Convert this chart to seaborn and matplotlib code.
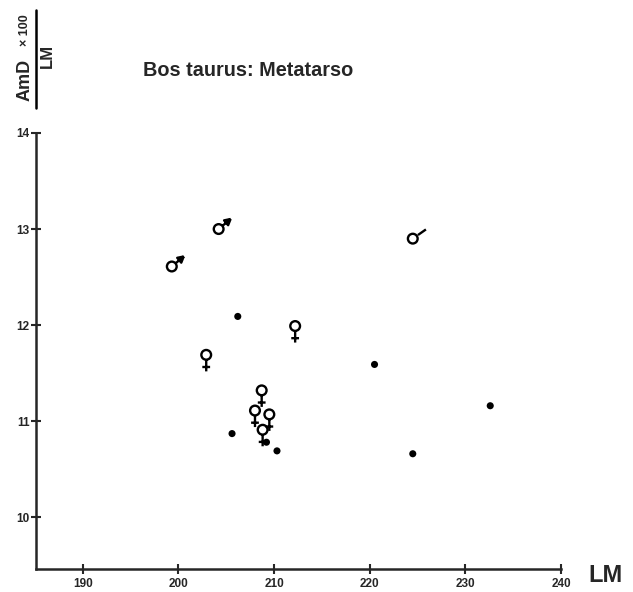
import numpy as np
import pandas as pd
import matplotlib
matplotlib.use("Agg")
import matplotlib.pyplot as plt
from matplotlib.path import Path
from matplotlib.lines import Line2D
import seaborn as sns

# Metatarsal measurements: greatest length (LM, mm) vs index AmD*100/LM
male_lm = [199.3, 204.2]
male_idx = [12.61, 13.00]
male_doubt_lm = [224.5]
male_doubt_idx = [12.90]
female_lm = [202.9, 212.2, 208.7, 208.0, 209.5, 208.8]
female_idx = [11.69, 11.99, 11.32, 11.11, 11.07, 10.91]
unsexed_lm = [206.2, 220.5, 232.6, 224.5, 205.6, 210.3, 209.2]
unsexed_idx = [12.09, 11.59, 11.16, 10.66, 10.87, 10.69, 10.78]

x_ticks = [190, 200, 210, 220, 230, 240]
y_ticks = [10, 11, 12, 13, 14]

FONT = ["Liberation Sans", "DejaVu Sans"]


def circle_codes():
    c = Path.unit_circle()
    return list(c.vertices), list(c.codes)


def make_path(segments):
    verts, codes = circle_codes()
    for seg in segments:
        for i, p in enumerate(seg):
            verts.append(p)
            codes.append(Path.MOVETO if i == 0 else Path.LINETO)
    return Path(np.array(verts, dtype=float), codes)


# sex symbols drawn with the circle centred on the data point
ang = np.deg2rad(40)
u = np.array([np.cos(ang), np.sin(ang)])
n = np.array([-u[1], u[0]])
tip = 3.2 * u
head = [tuple(tip), tuple(tip - 1.2 * u + 0.65 * n), tuple(tip - 1.2 * u - 0.65 * n), tuple(tip)]
male_path = make_path([
    [tuple(u * 1.0), tuple(tip)],
    head,
    [tuple(tip - 0.4 * u + 0.25 * n), tuple(tip - 0.4 * u - 0.25 * n)],
])
ang2 = np.deg2rad(35)
u2 = np.array([np.cos(ang2), np.sin(ang2)])
male_doubt_path = make_path([
    [tuple(u2 * 1.3), tuple(u2 * 3.3)],
])
female_path = make_path([
    [(0, -1.0), (0, -3.4)],
    [(-0.8, -2.5), (0.8, -2.5)],
])

RADIUS_PT = 3.5


def marker_size(path):
    m = np.abs(path.vertices).max()
    return (2 * RADIUS_PT * m) ** 2


sns.set_style("ticks")
plt.rcParams["font.family"] = FONT
plt.rcParams["font.weight"] = "bold"

fig = plt.figure(figsize=(6.33, 5.92), dpi=100)
W, H = 633, 592
ax = fig.add_axes([36 / W, 1 - 569 / H, (561 - 36) / W, (569 - 133) / H])

sym_kw = dict(facecolor="none", edgecolor="black", linewidth=1.7, ax=ax, legend=False, zorder=3)
sns.scatterplot(x=male_lm, y=male_idx, marker=male_path, s=marker_size(male_path), **sym_kw)
sns.scatterplot(x=male_doubt_lm, y=male_doubt_idx, marker=male_doubt_path,
                s=marker_size(male_doubt_path), **sym_kw)
sns.scatterplot(x=female_lm, y=female_idx, marker=female_path, s=marker_size(female_path), **sym_kw)
sns.scatterplot(x=unsexed_lm, y=unsexed_idx, marker="o", s=26, color="black",
                edgecolor="none", ax=ax, legend=False, zorder=3)

ax.set_xlim(185.1, 240)
ax.set_ylim(9.46, 14.0)
ax.set_xticks(x_ticks)
ax.set_yticks(y_ticks)
ax.set_xticklabels([str(t) for t in x_ticks])
ax.set_yticklabels([str(t) for t in y_ticks])
ax.set_xlabel("")
ax.set_ylabel("")
sns.despine(ax=ax)
for s in ("left", "bottom"):
    ax.spines[s].set_linewidth(1.8)
ax.tick_params(axis="both", direction="inout", length=7, width=1.5, labelsize=8.5)
ax.tick_params(axis="x", pad=3)
ax.tick_params(axis="y", pad=1)

# title and axis captions
fig.text(143 / W, 1 - 70 / H, "Bos taurus: Metatarso", fontsize=14.3, fontweight="bold",
         ha="left", va="center", family=FONT)
fig.text(588 / W, 1 - 576 / H, "LM", fontsize=17, fontweight="bold",
         ha="left", va="center", family=FONT)

# y caption written as a rotated fraction
fig.text(25 / W, 1 - 80 / H, "AmD", fontsize=13, fontweight="bold", rotation=90,
         ha="center", va="center", family=FONT)
fig.text(25 / W, 1 - 30 / H, "× 100", fontsize=9, fontweight="bold", rotation=90,
         ha="center", va="center", family=FONT)
fig.add_artist(Line2D([35.5 / W, 35.5 / W], [1 - 108 / H, 1 - 10 / H],
                      transform=fig.transFigure, color="black", linewidth=1.8))
fig.text(47 / W, 1 - 56 / H, "LM", fontsize=12, fontweight="bold", rotation=90,
         ha="center", va="center", family=FONT)

fig.savefig("out.png", dpi=100, facecolor="white")
